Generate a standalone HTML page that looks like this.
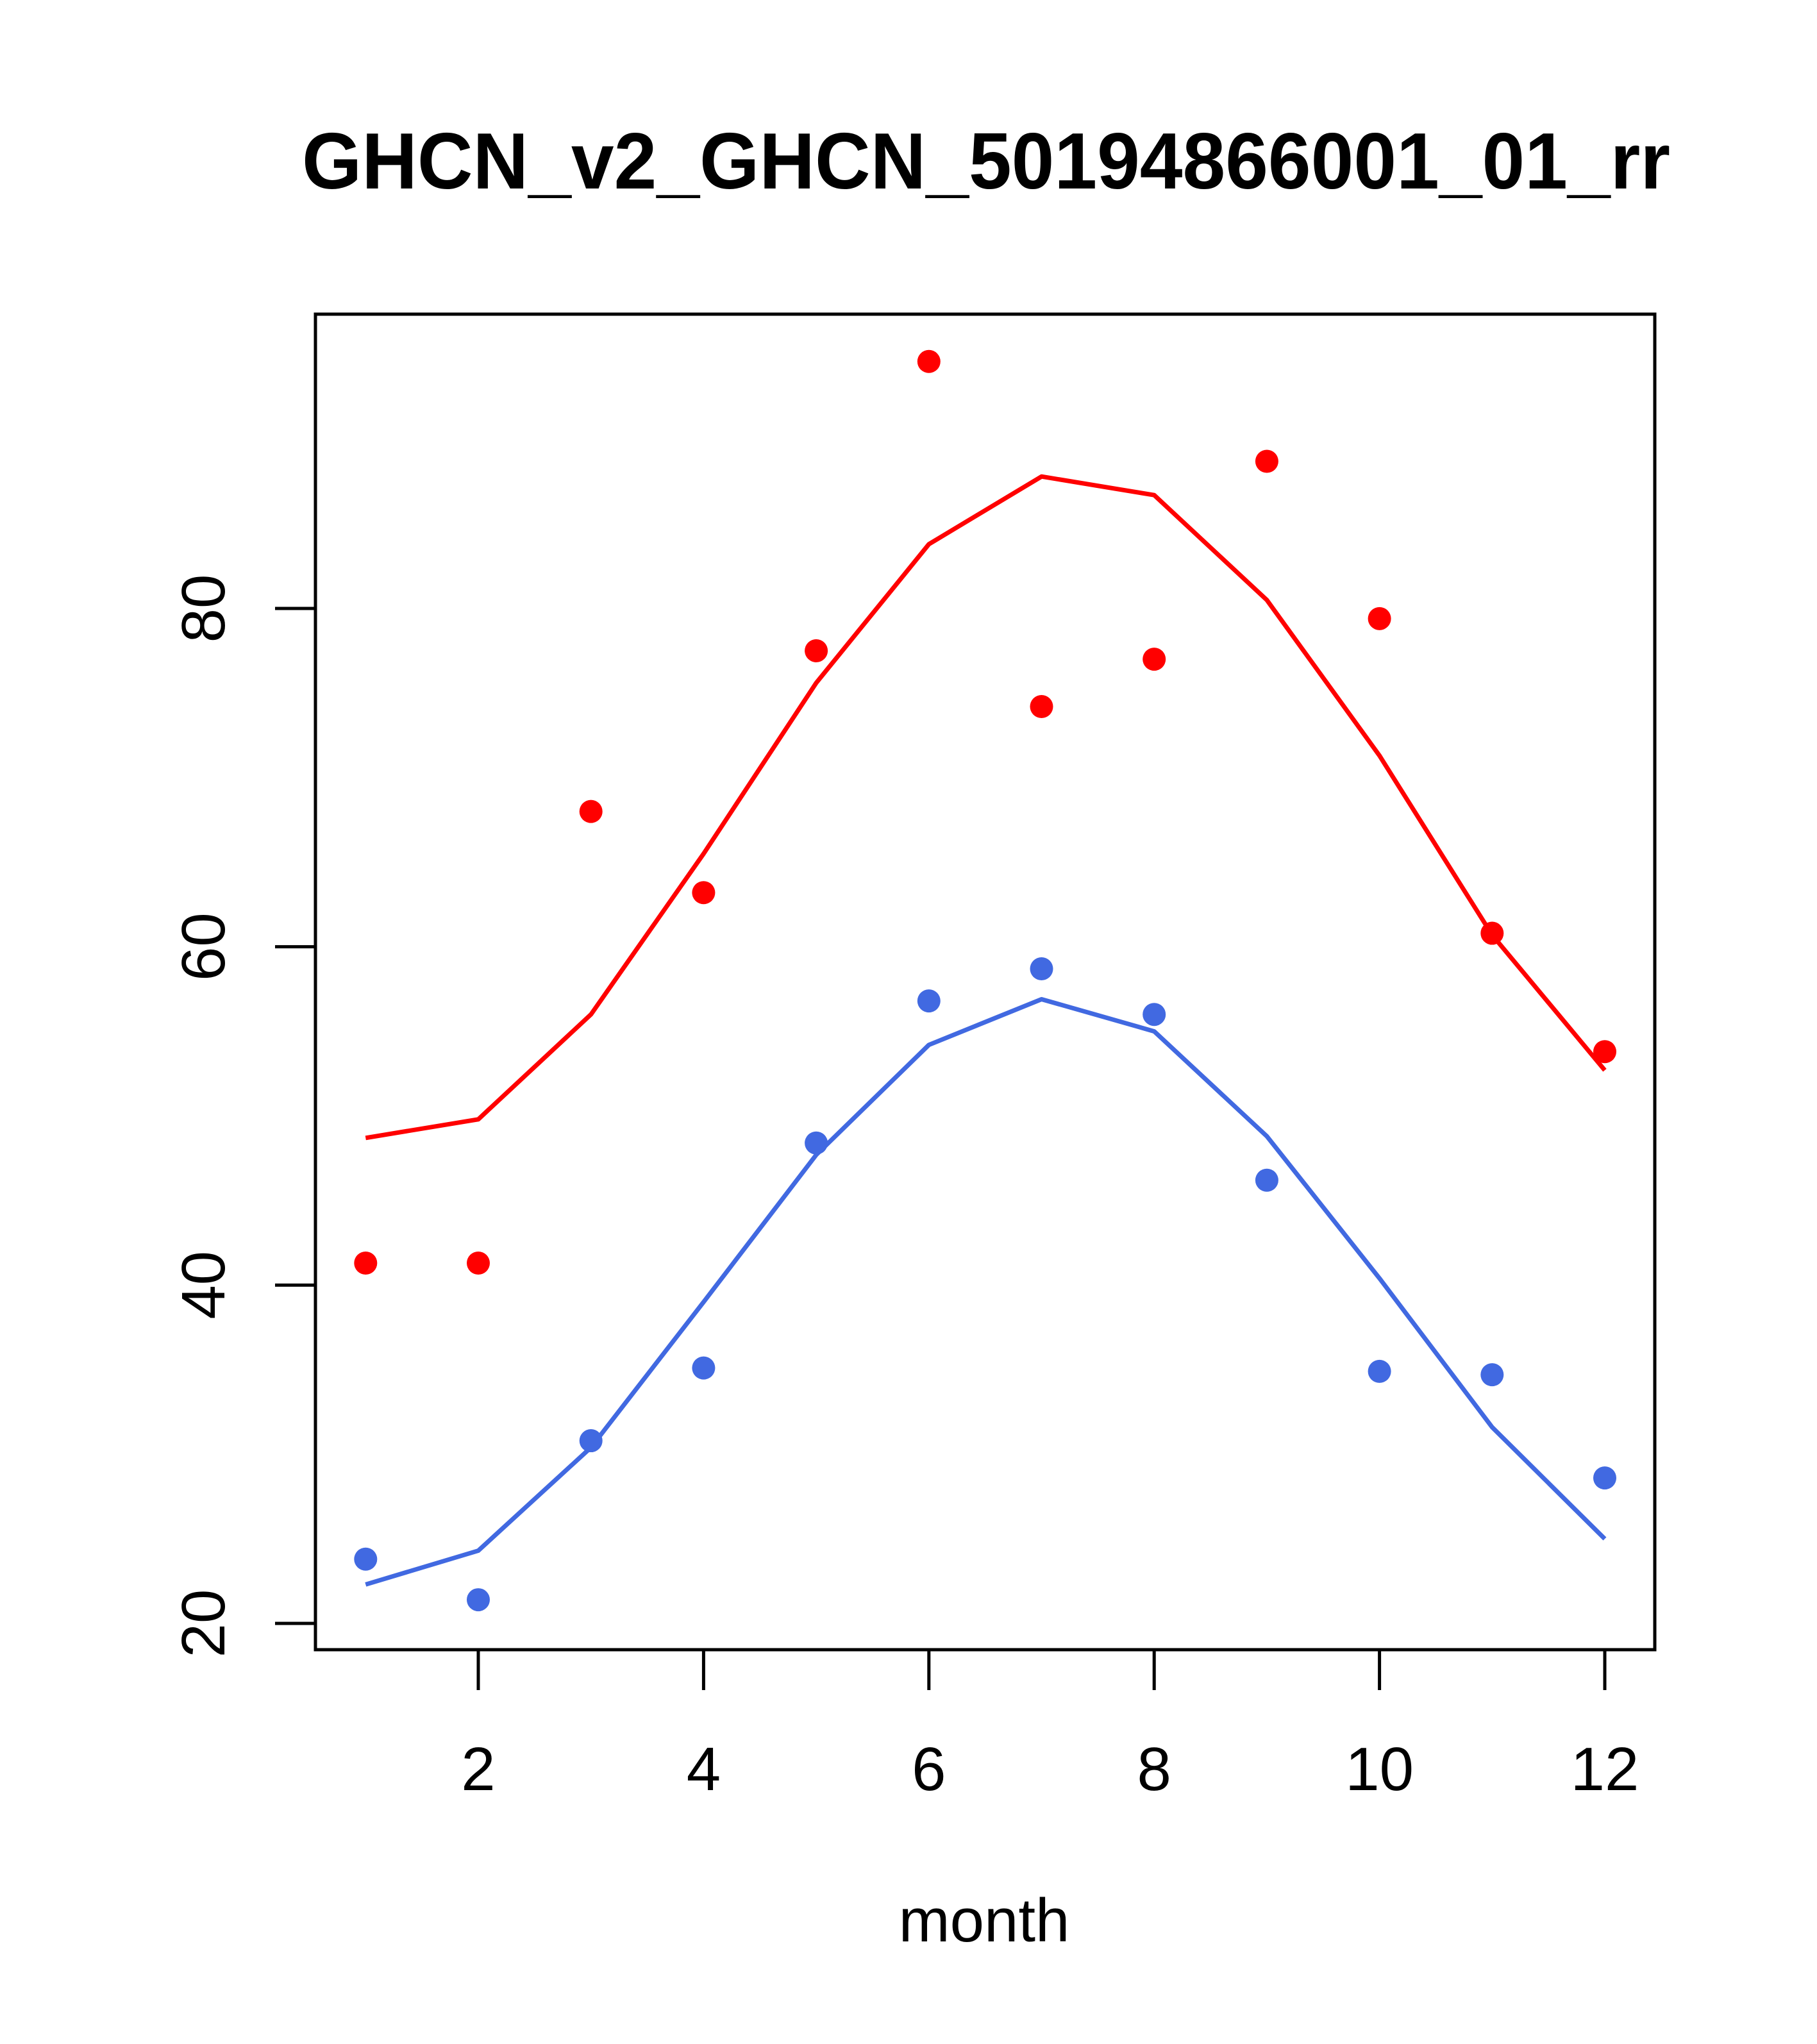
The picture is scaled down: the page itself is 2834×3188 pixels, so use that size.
<!DOCTYPE html>
<html><head><meta charset="utf-8"><style>
html,body{margin:0;padding:0;background:#fff;}
svg{display:block;}
text{font-family:"Liberation Sans",sans-serif;}
</style></head><body>
<svg id="chart" width="2834" height="3188" viewBox="0 0 2834 3188" xmlns="http://www.w3.org/2000/svg">
<rect width="2834" height="3188" fill="#fff"/>
<text x="1538" y="294" font-size="124" font-weight="bold" text-anchor="middle" textLength="2134" lengthAdjust="spacingAndGlyphs">GHCN_v2_GHCN_50194866001_01_rr</text>
<rect x="492" y="490" width="2089" height="2083" fill="none" stroke="#000" stroke-width="5"/>
<text x="1535" y="3028" font-size="96" text-anchor="middle">month</text>
<g id="axes"></g>
<g id="series"></g>
</svg>
<script>
const months = [1,2,3,4,5,6,7,8,9,10,11,12];
const redPoints = [41.3,41.3,68,63.2,77.5,94.6,74.2,77,88.7,79.4,60.8,53.8];
const redLine = [48.7,49.8,56,65.5,75.6,83.8,87.8,86.7,80.5,71.3,60.7,52.7];
const bluePoints = [23.8,21.4,30.8,35.1,48.4,56.8,58.7,56,46.2,34.9,34.7,28.6];
const blueLine = [22.3,24.3,30.4,39,47.7,54.2,56.9,55,48.8,40.4,31.6,25];
const xTicks = [2,4,6,8,10,12];
const yTicks = [20,40,60,80];

const NS = 'http://www.w3.org/2000/svg';
function xs(m){ return 746 + (m-2)*(2503-746)/10; }
function ys(v){ return 2532 - (v-20)*(2532-949)/60; }
function mk(tag, attrs, parent){
  const e = document.createElementNS(NS, tag);
  for (const k in attrs) e.setAttribute(k, attrs[k]);
  parent.appendChild(e); return e;
}
const axes = document.getElementById('axes');
const series = document.getElementById('series');
mk('line',{x1:xs(2),x2:xs(12),y1:2573,y2:2573,stroke:'#000','stroke-width':5},axes);
xTicks.forEach(t=>{
  const l = mk('line',{x1:xs(t),x2:xs(t),y1:2573,y2:2636,stroke:'#000','stroke-width':5},axes);
  
  
  const tx = mk('text',{x:xs(t),y:2792,'font-size':96,'text-anchor':'middle'},axes);
  tx.textContent = t;
  
  
});
mk('line',{x1:492,x2:492,y1:ys(20),y2:ys(80),stroke:'#000','stroke-width':5},axes);
yTicks.forEach(t=>{
  const l = mk('line',{x1:429,x2:492,y1:ys(t),y2:ys(t),stroke:'#000','stroke-width':5},axes);
  
  
  const tx = mk('text',{x:0,y:0,'font-size':96,'text-anchor':'middle',transform:`translate(350,${ys(t)}) rotate(-90)`},axes);
  tx.textContent = t;
  
  
});
function drawLine(vals,color,name){
  const p = mk('polyline',{points:vals.map((v,i)=>xs(months[i])+','+ys(v)).join(' '),fill:'none',stroke:color,'stroke-width':7,'stroke-linejoin':'round'},series);
  
  
}
function drawPts(vals,color,name){
  vals.forEach((v,i)=>{
    const c = mk('circle',{cx:xs(months[i]),cy:ys(v),r:18,fill:color},series);
    
    
  });
}
drawLine(redLine,'#ff0000','red-fit-line');
drawLine(blueLine,'#4169e1','blue-fit-line');
drawPts(redPoints,'#ff0000','red-point');
drawPts(bluePoints,'#4169e1','blue-point');
</script>
</body></html>
